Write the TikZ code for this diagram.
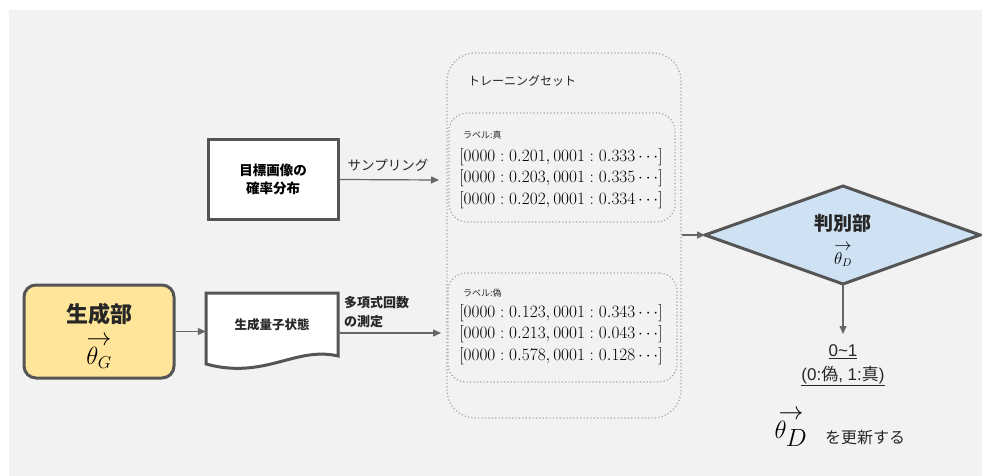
\documentclass[tikz,border=0pt]{standalone}
\usepackage{fontspec}
\setmainfont{Noto Sans CJK JP}
\newfontfamily\lib{Liberation Sans}
\usetikzlibrary{arrows.meta}
\definecolor{bg}{HTML}{F2F2F2}
\definecolor{edge}{HTML}{555555}
\definecolor{arr}{HTML}{666666}
\definecolor{dots}{HTML}{A6A6A6}
\definecolor{yel}{HTML}{FFE599}
\definecolor{blu}{HTML}{CFE2F3}
\newcommand{\vecarrow}[1]{\mathop{#1}\limits^{\textstyle\rightarrow}}
\tikzset{
  box/.style={draw=edge, line width=3pt, fill=white, inner sep=0pt},
  conn/.style={draw=arr, line width=1.2pt, -{Triangle[length=8pt,width=7pt]}},
  dotbox/.style={draw=dots, line width=1.2pt, dash pattern=on 1.2pt off 2.2pt, inner sep=0pt},
  txt/.style={inner sep=0pt, text=black!85},
  rowtxt/.style={inner sep=0pt, align=left, font=\fontsize{16}{21.5}\selectfont},
}
\begin{document}
\begin{tikzpicture}[x=1pt,y=-1pt]
\useasboundingbox (0,0) rectangle (982,476);
\fill[bg] (9,10) rectangle (982,476);

% training set containers
\node[dotbox, rounded corners=28pt, minimum width=234pt, minimum height=365pt] (train) at (564,235.5) {};
\node[txt, anchor=west, font=\fontsize{12}{14}\selectfont] (trtitle) at (468,81) {トレーニングセット};
\node[dotbox, rounded corners=18pt, minimum width=226pt, minimum height=109pt] (real) at (562,167.5) {};
\node[dotbox, rounded corners=18pt, minimum width=229pt, minimum height=109pt] (fake) at (562.5,327.5) {};
\node[txt, anchor=west, font=\fontsize{9}{11}\selectfont] (lreal) at (463,135) {ラベル:真};
\node[txt, anchor=west, font=\fontsize{9}{11}\selectfont] (lfake) at (463,293) {ラベル:偽};
\node[rowtxt] (rreal) at (561,178.5) {$[0000:0.201,0001:0.333\cdots]$\\$[0000:0.203,0001:0.335\cdots]$\\$[0000:0.202,0001:0.334\cdots]$};
\node[rowtxt] (rfake) at (561,334.5) {$[0000:0.123,0001:0.343\cdots]$\\$[0000:0.213,0001:0.043\cdots]$\\$[0000:0.578,0001:0.128\cdots]$};

% target distribution box
\node[box, minimum width=130pt, minimum height=79pt, align=center, font=\fontsize{13.5}{18}\selectfont\bfseries] (tgt) at (273,179.5) {目標画像の\\確率分布};
\coordinate (m1) at (439,180);
\draw[conn] (tgt.east) -- (m1);
\node[txt, font=\fontsize{13.5}{16}\selectfont] (samp) at (388,165) {サンプリング};

% generator
\node[box, fill=yel, rounded corners=12pt, minimum width=150pt, minimum height=93pt] (gen) at (99,331.5) {};
\node[txt, font=\fontsize{22}{26}\selectfont\bfseries] (gent) at (99,314) {生成部};
\node[inner sep=0pt, font=\fontsize{26}{30}\selectfont] (genm) at (99,352) {$\vecarrow{\theta_G}$};

% document shape
\node[inner sep=0pt, minimum width=132pt, minimum height=64pt] (doc) at (272,325) {};
\draw[edge, line width=3pt, fill=white, line join=miter]
  (206,293) -- (338,293) -- (338,356)
  .. controls (295,346) and (265,380) .. (206,364) -- cycle;
\node[txt, font=\fontsize{12.5}{15}\selectfont\bfseries] (doct) at (272,325) {生成量子状態};
\draw[conn] (gen.east) -- (gen.east -| doc.west);
\coordinate (m2) at (441,333);
\draw[conn] (doc.east |- m2) -- (m2);
\node[txt, anchor=west, align=left, font=\fontsize{13}{19}\selectfont\bfseries] (meas) at (344,312) {多項式回数\\の測定};

% discriminator
\coordinate (dL) at (705,235);
\coordinate (dT) at (843,186);
\coordinate (dR) at (980,235);
\coordinate (dB) at (843,284);
\draw[draw=edge, line width=3pt, fill=blu, line join=miter] (dL) -- (dT) -- (dR) -- (dB) -- cycle;
\node[txt, font=\fontsize{19}{22}\selectfont\bfseries] (disct) at (843,223) {判別部};
\node[inner sep=0pt, font=\fontsize{16}{18}\selectfont] (discm) at (843,255) {$\vecarrow{\theta_D}$};
\draw[conn] (train.east |- dL) -- (dL);

% result
\coordinate (r) at (843,334);
\draw[conn] (dB) -- (r);
\node[txt, align=center, font=\fontsize{17}{24}\selectfont] (res) at (843,365) {\underline{\lib 0\char`~1}\\\underline{{\lib (0:}偽{\lib , 1:}真{\lib )}}};
\node[inner sep=0pt, font=\fontsize{34}{40}\selectfont] (upd) at (791,428) {$\vecarrow{\theta_D}$};
\node[txt, anchor=west, font=\fontsize{16}{19}\selectfont] (updt) at (825,437) {を更新する};
\end{tikzpicture}
\end{document}
